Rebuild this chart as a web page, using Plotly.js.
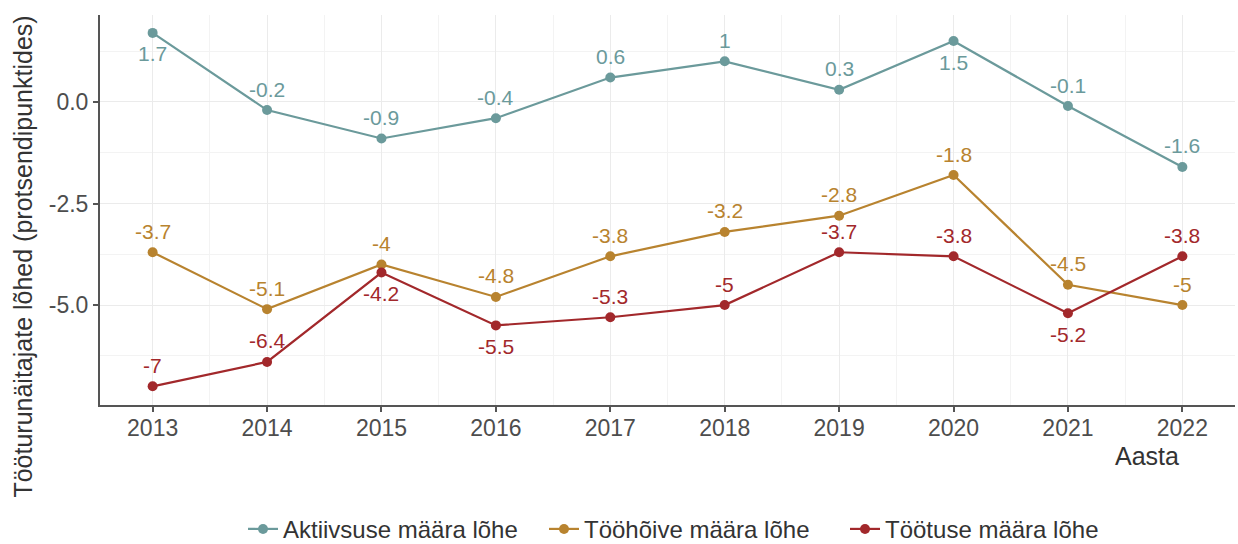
<!DOCTYPE html>
<html>
<head>
<meta charset="utf-8">
<script src="https://cdn.plot.ly/plotly-3.0.1.min.js"></script>
<style>html,body{margin:0;padding:0;background:#fff;}#chart{width:1238px;height:544px;}</style>
</head>
<body>
<div id="chart"></div>
<script>
const years = [2013, 2014, 2015, 2016, 2017, 2018, 2019, 2020, 2021, 2022];
const aktiivsus = [1.7, -0.2, -0.9, -0.4, 0.6, 1, 0.3, 1.5, -0.1, -1.6];
const toohoive = [-3.7, -5.1, -4, -4.8, -3.8, -3.2, -2.8, -1.8, -4.5, -5];
const tootus = [-7, -6.4, -4.2, -5.5, -5.3, -5, -3.7, -3.8, -5.2, -3.8];
const seriesNames = ["Aktiivsuse määra lõhe", "Tööhõive määra lõhe", "Töötuse määra lõhe"];
const colors = ["#6b9a9b", "#b8832f", "#a2282b"];
// label side: 1 = above, -1 = below
const labelSide = [
  [-1, 1, 1, 1, 1, 1, 1, -1, 1, 1],
  [1, 1, 1, 1, 1, 1, 1, 1, 1, 1],
  [1, 1, -1, -1, 1, 1, 1, 1, -1, 1]
];
const allSeries = [aktiivsus, toohoive, tootus];
const FONT = "Liberation Sans, Arial, sans-serif";

const traces = allSeries.map((vals, i) => ({
  x: years, y: vals, name: seriesNames[i], type: "scatter", mode: "lines+markers",
  line: {color: colors[i], width: 2.2},
  marker: {color: colors[i], size: 10},
  hoverinfo: "x+y"
}));

const annotations = [];
allSeries.forEach((vals, i) => {
  vals.forEach((v, j) => {
    annotations.push({
      x: years[j], y: v, xref: "x", yref: "y", text: String(v),
      showarrow: false, yshift: 21 * labelSide[i][j],
      font: {family: FONT, size: 21, color: colors[i]}
    });
  });
});
annotations.push({
  text: "Aasta", xref: "paper", yref: "paper", x: 0.952, y: -0.132,
  xanchor: "right", yanchor: "middle", showarrow: false,
  font: {family: FONT, size: 25, color: "#333333"}
});
annotations.push({
  text: "Tööturunäitajate lõhed (protsendipunktides)", xref: "paper", yref: "paper",
  x: -0.068, y: 0.38, xanchor: "center", yanchor: "middle", textangle: -90, showarrow: false,
  font: {family: FONT, size: 25, color: "#333333"}
});

const layout = {
  width: 1238, height: 544,
  margin: {l: 100, r: 3, t: 15, b: 139},
  paper_bgcolor: "#ffffff", plot_bgcolor: "#ffffff",
  font: {family: FONT, color: "#4d4d4d"},
  showlegend: true,
  legend: {orientation: "h", xref: "container", yref: "container", x: 0.561, xanchor: "center", y: 0.027, yanchor: "middle",
    entrywidth: 256, entrywidthmode: "pixels",
    font: {family: FONT, size: 24, color: "#333333"}},
  xaxis: {
    range: [2012.54, 2022.46], tickmode: "array", tickvals: years, ticktext: years.map(String),
    showgrid: true, gridcolor: "#ebebeb", gridwidth: 1,
    minor: {tickmode: "array", tickvals: years.slice(0, -1).map(y => y + 0.5), showgrid: true, gridcolor: "#f3f3f3", gridwidth: 1},
    showline: true, linecolor: "#555555", linewidth: 2,
    ticks: "outside", ticklen: 5, tickwidth: 2, tickcolor: "#555555",
    ticklabelstandoff: -4,
    tickfont: {family: FONT, size: 23, color: "#4d4d4d"},
    zeroline: false, automargin: false
  },
  yaxis: {
    range: [-7.46, 2.14], tickmode: "array", tickvals: [0, -2.5, -5], ticktext: ["0.0", "-2.5", "-5.0"],
    showgrid: true, gridcolor: "#ebebeb", gridwidth: 1,
    minor: {tickmode: "array", tickvals: [1.25, -1.25, -3.75, -6.25], showgrid: true, gridcolor: "#f3f3f3", gridwidth: 1},
    showline: true, linecolor: "#555555", linewidth: 2,
    ticks: "outside", ticklen: 5, tickwidth: 2, tickcolor: "#555555",
    tickfont: {family: FONT, size: 23, color: "#4d4d4d"},
    zeroline: false, automargin: false
  },
  annotations: annotations
};

Plotly.newPlot("chart", traces, layout, {displayModeBar: false, staticPlot: true});
</script>
</body>
</html>
